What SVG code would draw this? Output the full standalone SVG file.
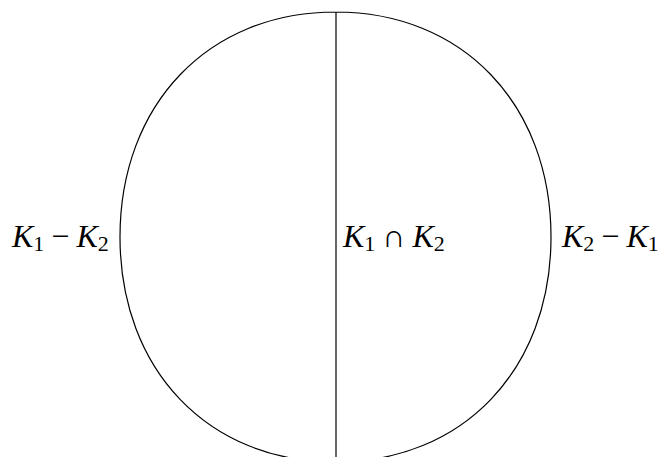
<svg xmlns="http://www.w3.org/2000/svg" width="662" height="457" viewBox="0 0 662 457">
<style>
.ln{fill:none;stroke:#000;stroke-width:1.2}
.lbl{font-family:"Liberation Serif","DejaVu Serif",serif;font-size:32px;fill:#000}
.it{font-style:italic}
.sub{font-size:22px}
</style>
<rect width="662" height="457" fill="#fff"/>
<g id="outline">
<path class="ln" d="M335.5,12 C208.4,12 120,104.3 120,237 C120,369.8 208.4,462 335.5,462 C462.6,462 551,369.8 551,237 C551,104.3 462.6,12 335.5,12 Z"/>
</g>
<g id="connectors">
<line class="ln" x1="336" y1="12" x2="336" y2="457"/>
</g>
<g id="label-left">
<text class="lbl" x="12" y="247"><tspan class="it">K</tspan><tspan class="sub" dy="4">1</tspan><tspan dy="-4" dx="7">−</tspan><tspan class="it" dx="7">K</tspan><tspan class="sub" dy="4">2</tspan></text>
</g>
<g id="label-middle">
<text class="lbl" x="343" y="247"><tspan class="it">K</tspan><tspan class="sub" dy="4">1</tspan><tspan dy="-4" dx="7">∩</tspan><tspan class="it" dx="7">K</tspan><tspan class="sub" dy="4">2</tspan></text>
</g>
<g id="label-right">
<text class="lbl" x="562" y="247"><tspan class="it">K</tspan><tspan class="sub" dy="4">2</tspan><tspan dy="-4" dx="7">−</tspan><tspan class="it" dx="7">K</tspan><tspan class="sub" dy="4">1</tspan></text>
</g>
</svg>
